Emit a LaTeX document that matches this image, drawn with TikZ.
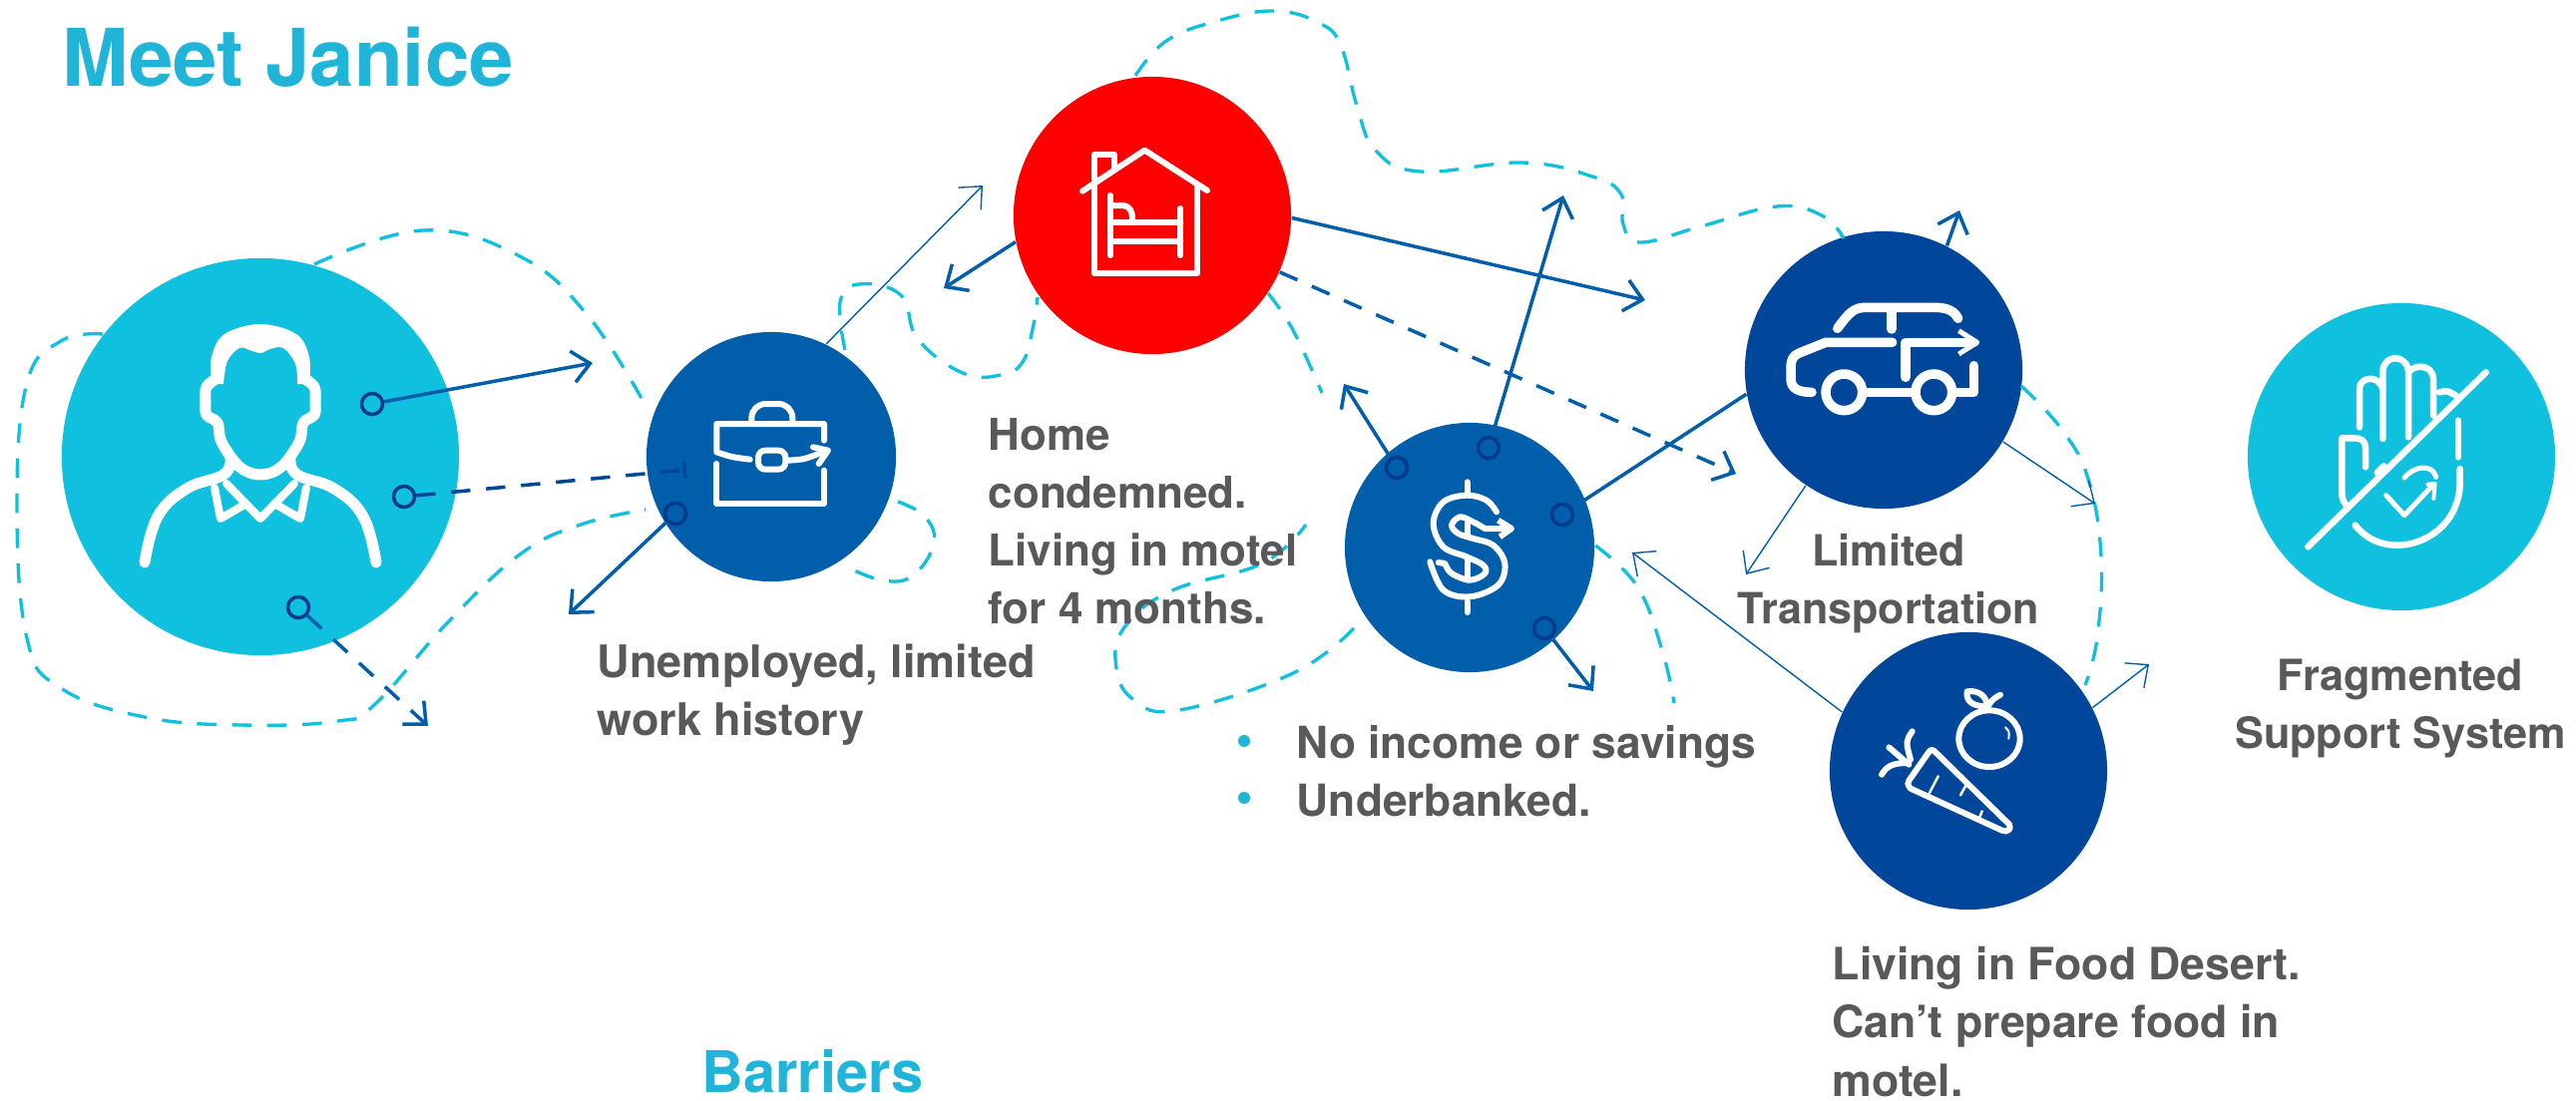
\documentclass[tikz,border=0pt]{standalone}
\usepackage{fontspec}
\setmainfont{TeX Gyre Heros}
\usetikzlibrary{arrows.meta}
\definecolor{cyanfill}{HTML}{0FC1DF}
\definecolor{cyantext}{HTML}{20B5D8}
\definecolor{bluefill}{HTML}{005EAB}
\definecolor{navyfill}{HTML}{00469B}
\definecolor{ringblue}{HTML}{003A8C}
\definecolor{textgray}{HTML}{58595B}
\begin{document}
\begin{tikzpicture}[x=0.01cm,y=-0.01cm,
                    >={Straight Barb[length=5pt,width=9pt]},
                    line cap=butt,
                    ]
    \tikzstyle{disc}=[circle,inner sep=0pt,draw=none];
    \tikzstyle{ring}=[circle,draw=ringblue,line width=1pt,minimum size=0.21cm,inner sep=0pt];
    \tikzstyle{midline}=[draw=bluefill,line width=1pt];
    \tikzstyle{thinline}=[draw=bluefill,line width=0.4pt];
    \tikzstyle{dashline}=[draw=cyanfill,line width=0.95pt,dash pattern=on 5.6pt off 4.4pt];
    \tikzstyle{dashblue}=[midline,dash pattern=on 5.5pt off 4.5pt];
    \tikzstyle{icon}=[draw=white,line cap=round,line join=round,line width=2pt];
    \tikzstyle{caption}=[anchor=base west,inner sep=0pt,text=textgray,align=left];
    \tikzstyle{heading}=[anchor=base west,inner sep=0pt,text=cyantext];
    \tikzstyle{bulletdot}=[circle,fill=cyantext,minimum size=0.12cm,inner sep=0pt];

    \useasboundingbox (0,0) rectangle (2582,1103);

    \node[disc,fill=cyanfill,minimum size=3.98cm] (person) at (261,458) {};
    \node[disc,fill=bluefill,minimum size=2.50cm] (brief) at (773,458) {};
    \node[disc,fill=red,minimum size=2.78cm] (house) at (1155,216) {};
    \node[disc,fill=bluefill,minimum size=2.50cm] (dollar) at (1473,549) {};
    \node[disc,fill=navyfill,minimum size=2.78cm] (car) at (1888,371) {};
    \node[disc,fill=navyfill,minimum size=2.78cm] (food) at (1973,773) {};
    \node[disc,fill=cyanfill,minimum size=3.08cm] (hand) at (2407,458) {};

    \draw[dashline] plot[smooth,tension=0.7] coordinates {(315,265) (424,231) (521,257) (588,315) (645,403)};
    \draw[dashline] plot[smooth,tension=0.7] coordinates {(103,335) (61,342) (27,384) (17,506) (27,640) (61,690) (145,719) (242,727) (339,723) (376,706) (448,625) (521,556) (582,526) (647,511)};
    \draw[dashline] plot[smooth,tension=0.7] coordinates {(900,503) (927,518) (936,545) (915,577) (885,582) (848,568)};
    \draw[dashline] plot[smooth,tension=0.7] coordinates {(847,351) (842,303) (861,285) (903,296) (920,340) (965,374) (1003,376) (1025,363) (1035,330) (1040,298)};
    \draw[dashline] plot[smooth,tension=0.7] coordinates {(1138,76) (1169,41) (1220,21) (1277,11) (1322,23) (1344,46) (1360,106) (1379,151) (1424,172) (1526,163) (1596,177) (1625,195) (1627,225) (1644,243) (1705,227) (1781,207) (1826,216) (1848,239)};
    \draw[dashline] plot[smooth,tension=0.7] coordinates {(1271,294) (1296,331) (1325,394)};
    \draw[dashline] plot[smooth,tension=0.7] coordinates {(1357,630) (1296,675) (1182,712) (1137,702) (1119,670) (1127,629) (1175,592) (1265,565) (1309,526)};
    \draw[dashline] plot[smooth,tension=0.7] coordinates {(1599,547) (1641,588) (1666,652) (1678,705)};
    \draw[dashline] plot[smooth,tension=0.7] coordinates {(2026,387) (2066,430) (2093,480) (2106,558) (2102,640) (2090,687)};

    \node[ring] (ringA) at (373,405) {};
    \node[ring] (ringB) at (405,498) {};
    \node[ring] (ringC) at (299,609) {};
    \node[ring] (ringD) at (677,515) {};
    \node[ring] (ringE) at (1400,469) {};
    \node[ring] (ringF) at (1492,449) {};
    \node[ring] (ringG) at (1566,516) {};
    \node[ring] (ringH) at (1548,630) {};

    \coordinate (endA) at (594,364);
    \coordinate (endB) at (688,471);
    \coordinate (endC) at (429,728);
    \coordinate (endD) at (570,616);
    \coordinate (endE) at (985,186);
    \coordinate (endF) at (946,289);
    \coordinate (endG) at (1649,301);
    \coordinate (endH) at (1740,475);
    \coordinate (endI) at (1347,385);
    \coordinate (endJ) at (1567,196);
    \coordinate (endK) at (1597,693);
    \coordinate (endL) at (1964,211);
    \coordinate (endM) at (2100,505);
    \coordinate (endN) at (1750,576);
    \coordinate (endO) at (1636,554);
    \coordinate (endP) at (2154,666);

    \draw[midline,->] (ringA) -- (endA);
    \draw[dashblue,draw=navyfill,-{Bar[width=5pt]}] (ringB) -- (endB);
    \draw[dashblue,->] (ringC) -- (endC);
    \draw[midline,->] (ringD) -- (endD);
    \draw[thinline,->] (brief.64) -- (endE);
    \draw[midline,->] (house.191) -- (endF);
    \draw[midline,->] (house.-1) -- (endG);
    \draw[dashblue,->] (house.-24) -- (endH);
    \draw[midline,->] (ringE) -- (endI);
    \draw[midline,->] (ringF) -- (endJ);
    \draw[midline] (ringG) -- (car.190);
    \draw[midline,->] (ringH) -- (endK);
    \draw[midline,->] (car.63) -- (endL);
    \draw[thinline,->] (car.-31) -- (endM);
    \draw[thinline,->] (car.-124) -- (endN);
    \draw[thinline,->] (food.155) -- (endO);
    \draw[thinline,->] (food.27) -- (endP);

    \fill[white] plot[smooth,tension=0.6] coordinates {(212,385) (212,358) (225,335) (261,325) (297,335) (310,358) (310,385)} -- plot[smooth,tension=0.6] coordinates {(298,385) (296,365) (284,349) (271,350) (261,354) (250,351) (240,349) (228,362) (224,385)} -- cycle;
    \draw[icon,line width=0.11cm] plot[smooth,tension=0.6] coordinates {(218,379) (207,388) (206,403) (207,416) (218,424) (222,443) (240,468) (261,476) (282,468) (300,443) (304,424) (315,416) (316,403) (315,388) (304,379)};
    \draw[icon,line width=0.11cm] plot[smooth,tension=0.7] coordinates {(145,564) (158,518) (187,490) (224,476) (231,460)};
    \draw[icon,line width=0.11cm] plot[smooth,tension=0.7] coordinates {(377,564) (364,518) (335,490) (298,476) (291,460)};
    \draw[icon,line width=0.08cm] (227,485) -- (261,520) -- (295,485) (215,489) -- (221,520) -- (245,506) (307,489) -- (301,520) -- (277,506);

    \begin{scope}[shift={(700,390)},scale=1/3]
        \draw[icon,line width=0.06cm,rounded corners=4pt] (160,95) -- (160,45) -- (283,45) -- (283,95);
        \draw[icon,line width=0.06cm] (155,212) .. controls (100,205) .. (55,190) -- (55,105) -- (378,105) -- (378,155);
        \draw[icon,line width=0.06cm] (55,225) -- (55,345) -- (378,345) -- (378,245);
        \draw[icon,line width=0.06cm,rounded corners=2pt] (180,185) rectangle (262,242);
        \draw[icon,line width=0.06cm] (270,215) .. controls (320,212) .. (385,185);
        \draw[icon,line width=0.06cm] (345,175) -- (390,185) -- (362,225);
    \end{scope}

    \begin{scope}[shift={(1060,130)},scale=1/3]
        \draw[icon,line width=0.06cm] (75,185) -- (262,62) -- (450,183);
        \draw[icon,line width=0.06cm] (110,150) -- (110,75) -- (170,75) -- (170,115);
        \draw[icon,line width=0.06cm] (110,165) -- (110,432) -- (420,432) -- (420,170);
        \draw[icon,line width=0.06cm] (158,198) -- (158,378) (370,237) -- (370,378) (160,278) -- (370,278) (160,335) -- (370,335);
        \draw[icon,line width=0.06cm] (160,228) -- (195,228) .. controls (218,230) and (225,245) .. (225,270);
    \end{scope}

    \begin{scope}[shift={(1390,460)},scale=1/3]
        \draw[icon,line width=0.06cm] (242,70) -- (242,105) (242,430) -- (242,462) (242,185) -- (242,235) (242,305) -- (242,365);
        \draw[icon,line width=0.06cm] plot[smooth,tension=0.6] coordinates {(330,160) (300,125) (240,110) (170,130) (140,195) (170,265) (240,295) (290,320) (295,345) (250,365) (195,345) (175,315)} -- (155,312);
        \draw[icon,line width=0.06cm] plot[smooth,tension=0.6] coordinates {(130,310) (170,395) (250,415) (335,380) (355,315) (320,260) (260,240) (215,225) (195,200) (220,175) (260,190) (295,210)} -- (370,210);
        \draw[icon,line width=0.06cm,line cap=butt] (335,185) -- (375,210) -- (340,235);
    \end{scope}

    \begin{scope}[shift={(1780,280)},scale=1/3]
        \draw[icon,line width=0.095cm] (185,148) .. controls (220,100) and (235,85) .. (270,85) -- (480,85) .. controls (520,85) and (540,100) .. (548,118);
        \draw[icon,line width=0.095cm] (348,90) -- (348,150);
        \draw[icon,line width=0.095cm] (350,190) -- (150,190) -- (70,222) .. controls (50,230) and (45,245) .. (45,265) -- (45,300) .. controls (45,330) and (70,340) .. (108,340);
        \draw[icon,line width=0.095cm] (205,340) ellipse [x radius=55,y radius=55];
        \draw[icon,line width=0.095cm] (475,340) ellipse [x radius=55,y radius=55];
        \draw[icon,line width=0.095cm] (260,340) -- (420,340) (530,340) -- (595,340) -- (595,260);
        \draw[icon,line width=0.095cm] (390,295) -- (390,190) -- (595,190);
        \draw[icon,line width=0.05cm,line cap=butt] (550,155) -- (605,190) -- (550,225);
    \end{scope}

    \begin{scope}[shift={(1870,670)},scale=1/3]
        \draw[icon,line width=0.06cm] (372,212) ellipse [x radius=92,y radius=85];
        \draw[icon,line width=0.06cm] (305,70) .. controls (340,65) and (365,85) .. (365,115) .. controls (330,115) and (300,105) .. (305,70);
        \draw[icon,line width=0.06cm] (365,120) .. controls (375,100) and (385,90) .. (405,80);
        \draw[icon,line width=0.02cm] (420,178) .. controls (432,190) .. (430,212);
        \draw[icon,line width=0.06cm] (205,248) -- (432,470) .. controls (440,485) and (425,495) .. (410,488) -- (135,362) .. controls (125,350) and (125,345) .. (130,338) -- (190,252) .. controls (195,245) .. (205,248);
        \draw[icon,line width=0.025cm] (218,325) -- (192,375) (300,355) -- (285,382) (350,430) -- (343,448);
        \draw[icon,line width=0.06cm] (140,190) .. controls (120,220) .. (135,275);
        \draw[icon,line width=0.06cm] (70,238) -- (130,290);
        \draw[icon,line width=0.06cm] (48,320) .. controls (65,290) and (90,285) .. (130,285);
    \end{scope}

    \begin{scope}[shift={(2270,330)},scale=1/3]
        \draw[icon,line width=0.065cm] (285,295) -- (285,175) .. controls (290,145) and (340,135) .. (355,180);
        \draw[icon,line width=0.065cm] (355,330) -- (355,125) .. controls (360,75) and (425,75) .. (432,125) -- (432,325);
        \draw[icon,line width=0.065cm] (432,130) .. controls (450,105) and (505,105) .. (507,150) -- (507,260);
        \draw[icon,line width=0.065cm] (525,190) .. controls (550,185) .. (575,200);
        \draw[icon,line width=0.065cm] (303,415) -- (303,360) .. controls (303,335) and (290,328) .. (270,328) -- (232,328) -- (232,480) .. controls (232,510) .. (245,530);
        \draw[icon,line width=0.065cm] (582,275) -- (582,385);
        \draw[icon,line width=0.065cm] (587,420) -- (587,470) .. controls (580,590) and (480,650) .. (400,650) .. controls (340,650) and (300,625) .. (272,590);
        \draw[icon,line width=0.065cm] (130,655) -- (665,130);
        \draw[icon,line width=0.065cm] (338,432) -- (358,412);
        \draw[icon,line width=0.05cm] (365,500) -- (420,560) -- (500,475);
        \draw[icon,line width=0.04cm] (490,467) -- (512,465) -- (508,510);
        \draw[icon,line width=0.05cm] (420,447) .. controls (450,410) and (505,405) .. (515,445);
    \end{scope}

    \node[heading,font=\fontsize{22.7}{26}\selectfont\bfseries] (title) at (62,87) {Meet Janice};
    \node[heading,font=\fontsize{16.4}{20}\selectfont\bfseries] (barriers) at (703,1095) {Barriers};
    \node[caption,font=\fontsize{12.8}{16.3}\selectfont\bfseries] (briefText) at (598,737) {Unemployed, limited\\work history};
    \node[caption,font=\fontsize{12.5}{16.4}\selectfont\bfseries] (houseText) at (990,625) {Home\\condemned.\\Living in motel\\for 4 months.};
    \node[caption,font=\fontsize{12.6}{16.3}\selectfont\bfseries] (dollarText) at (1299,818) {No income or savings\\Underbanked.};
    \node[caption,font=\fontsize{12.25}{16.3}\selectfont\bfseries,align=center,anchor=base] (carText) at (1893,625) {Limited\\Transportation};
    \node[caption,font=\fontsize{12.7}{16.6}\selectfont\bfseries] (foodText) at (1836,1099) {Living in Food Desert.\\Can’t prepare food in\\motel.};
    \node[caption,font=\fontsize{12.3}{16.3}\selectfont\bfseries,align=center,anchor=base] (handText) at (2406,750) {Fragmented\\Support System};
    \node[bulletdot] (bulletA) at (1247,743) {};
    \node[bulletdot] (bulletB) at (1247,800) {};
\end{tikzpicture}
\end{document}
